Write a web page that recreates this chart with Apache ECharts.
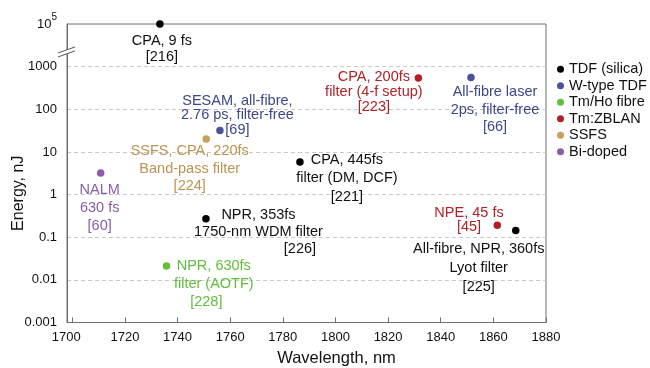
<!DOCTYPE html>
<html>
<head>
<meta charset="utf-8">
<script src="https://cdn.jsdelivr.net/npm/echarts@6/dist/echarts.min.js"></script>
<style>
  html, body { margin: 0; padding: 0; background: #fff; }
  #chart { width: 650px; height: 368px; }
</style>
</head>
<body>
<div id="chart"></div>
<script>
// Fibre / technique groups shown in the legend
const fibreTypes = ['TDF (silica)', 'W-type TDF', 'Tm/Ho fibre', 'Tm:ZBLAN', 'SSFS', 'Bi-doped'];

// One entry per reported laser
const wavelengthNm = [1733.3, 1786.5, 1750.8, 1868.5, 1756.1, 1851.5, 1735.8, 1831.5, 1861.5, 1750.9, 1710.8];
const energyNj     = [1e5,    5.8,    0.27,   0.144,  32,     560,    0.021,  540,    0.19,   20,     3.2];
const pointType    = [0,      0,      0,      0,      1,      1,      2,      3,      3,      4,      5];
const pointNotes = [
  ['CPA, 9 fs', '[216]'],
  ['CPA, 445fs', 'filter (DM, DCF)', '[221]'],
  ['NPR, 353fs', '1750-nm WDM filter', '[226]'],
  ['All-fibre, NPR, 360fs', 'Lyot filter', '[225]'],
  ['SESAM, all-fibre,', '2.76 ps, filter-free', '[69]'],
  ['All-fibre laser', '2ps, filter-free', '[66]'],
  ['NPR, 630fs', 'filter (AOTF)', '[228]'],
  ['CPA, 200fs', 'filter (4-f setup)', '[223]'],
  ['NPE, 45 fs', '[45]'],
  ['SSFS, CPA, 220fs', 'Band-pass filter', '[224]'],
  ['NALM', '630 fs', '[60]']
];

// Energy axis ticks (log decades, with a break above 1000 nJ)
const energyTicks = [0.001, 0.01, 0.1, 1, 10, 100, 1000, 1e5];
const wavelengthRange = [1698, 1880];

// ---- styling ----
const dotColors  = ['#000000', '#4a529a', '#64c03c', '#b31f27', '#c9a05a', '#8e5aaa'];
const noteColors = ['#111111', '#3d478c', '#62bd3c', '#b0222a', '#bb9452', '#8c5eaa'];
// label placement relative to each dot: [dx, dy, lineHeight, last-line padding]
const noteLayout = [
  [2, 25, 16, null],
  [47, 16, 18.5, null],
  [52.5, 13, 17, [0, 0, 0, 83]],
  [-37, 37.3, 19, null],
  [17.5, -15, 14.7, null],
  [24, 32.5, 17.5, null],
  [47.3, 18, 18, [0, 15, 0, 0]],
  [-44.5, 14, 15, null],
  [-28.3, -5.3, 13.5, null],
  [-16.5, 29.5, 17.5, null],
  [-1, 35, 18.2, null]
];
const FONT = "'Liberation Sans', Arial, Helvetica, sans-serif";

// log10 scale, with the decade range 1000 .. 1e5 squeezed into one axis unit
function energyToAxis(e) {
  const l = Math.log10(e);
  return l <= 3 ? l : 3 + (l - 3) / 2;
}

function noteLabel(i) {
  const [dx, dy, lh, pad] = noteLayout[i];
  const lines = pointNotes[i];
  const color = noteColors[pointType[i]];
  return {
    show: true,
    position: 'inside',
    offset: [dx, dy],
    align: 'center',
    verticalAlign: 'middle',
    opacity: 1,
    formatter: lines.map((t, k) =>
      (k === lines.length - 1 && pad ? '{p|' : '{l|') + t + '}').join('\n'),
    rich: {
      l: { fontFamily: FONT, fontSize: 14.5, lineHeight: lh, color: color },
      p: { fontFamily: FONT, fontSize: 14.5, lineHeight: lh, color: color, padding: pad || 0 }
    }
  };
}

const series = fibreTypes.map((name, s) => ({
  name: name,
  type: 'scatter',
  symbol: 'circle',
  symbolSize: 7.5,
  itemStyle: { color: dotColors[s], opacity: 1 },
  emphasis: { disabled: true },
  data: wavelengthNm
    .map((w, i) => ({ i, w }))
    .filter(d => pointType[d.i] === s)
    .map(d => ({
      value: [d.w, energyToAxis(energyNj[d.i])],
      label: noteLabel(d.i)
    }))
}));

const chart = echarts.init(document.getElementById('chart'), null, { renderer: 'canvas' });

chart.setOption({
  animation: false,
  textStyle: { fontFamily: FONT },
  grid: {
    left: 67, top: 24, right: 104, bottom: 45.5,
    outerBoundsMode: 'none',
    containLabel: false,
    show: true, borderColor: '#6e6e6e', borderWidth: 1, backgroundColor: 'transparent'
  },
  legend: {
    data: fibreTypes,
    orient: 'vertical',
    left: 557, top: 61,
    padding: 0,
    itemWidth: 7, itemHeight: 7, itemGap: 0,
    icon: 'circle',
    itemStyle: { opacity: 1 },
    textStyle: { fontFamily: FONT, fontSize: 14.5, lineHeight: 16.5, color: '#111' }
  },
  xAxis: {
    type: 'value',
    min: wavelengthRange[0],
    max: wavelengthRange[1],
    minInterval: 20, maxInterval: 20, splitNumber: 9,
    name: 'Wavelength, nm',
    nameLocation: 'middle',
    nameGap: 27,
    nameMoveOverlap: false,
    nameTextStyle: { fontFamily: FONT, fontSize: 16.5, color: '#111', padding: [0, 0, 0, 60] },
    axisLine: { onZero: false, lineStyle: { color: '#6e6e6e', width: 1 } },
    axisTick: { inside: true, length: 5, lineStyle: { color: '#6e6e6e' } },
    axisLabel: {
      showMinLabel: false,
      margin: 8,
      fontSize: 13, color: '#111', fontFamily: FONT,
      formatter: v => (Math.round(v) === 1700 ? '{edge|1700}' : String(Math.round(v))),
      rich: { edge: { fontSize: 13, fontFamily: FONT, color: '#111', padding: [0, 12, 0, 0] } }
    },
    splitLine: { show: false }
  },
  yAxis: {
    type: 'value',
    min: -3, max: 4, interval: 1,
    name: 'Energy, nJ',
    nameLocation: 'middle',
    nameGap: 40,
    nameRotate: 90,
    nameMoveOverlap: false,
    nameTextStyle: { fontFamily: FONT, fontSize: 16, color: '#111', padding: [0, 40, 0, 0] },
    axisLine: { onZero: false, lineStyle: { color: '#6e6e6e', width: 1 } },
    axisTick: { show: false },
    axisLabel: {
      margin: 10,
      fontSize: 13, color: '#111', fontFamily: FONT,
      formatter: v => {
        const e = energyTicks[Math.round(v) + 3];
        if (e >= 1e4) return '{b|10}{sup|' + Math.round(Math.log10(e)) + '}';
        return String(e);
      },
      rich: {
        b: { fontSize: 13, fontFamily: FONT, color: '#111', lineHeight: 24 },
        sup: { fontSize: 10, fontFamily: FONT, color: '#111', verticalAlign: 'top' }
      }
    },
    splitLine: {
      show: true, showMinLine: false, showMaxLine: false,
      lineStyle: { color: '#c8c8c8', type: [4, 3], width: 1 }
    }
  },
  series: series
});

// axis break mark between 1000 and 1e5
const bx = chart.convertToPixel({ xAxisIndex: 0 }, wavelengthRange[0]);
const by = chart.convertToPixel({ yAxisIndex: 0 }, 3.38);
chart.setOption({
  graphic: [
    {
      type: 'polygon', z: 100,
      shape: { points: [[bx - 9, by + 2.5], [bx + 8, by - 3.5], [bx + 8, by + 0.5], [bx - 9, by + 6.5]] },
      style: { fill: '#fff' }
    },
    {
      type: 'line', z: 101,
      shape: { x1: bx - 9, y1: by + 2.5, x2: bx + 8, y2: by - 3.5 },
      style: { stroke: '#555', lineWidth: 1 }
    },
    {
      type: 'line', z: 101,
      shape: { x1: bx - 9, y1: by + 6.5, x2: bx + 8, y2: by + 0.5 },
      style: { stroke: '#555', lineWidth: 1 }
    }
  ]
});
</script>
</body>
</html>
